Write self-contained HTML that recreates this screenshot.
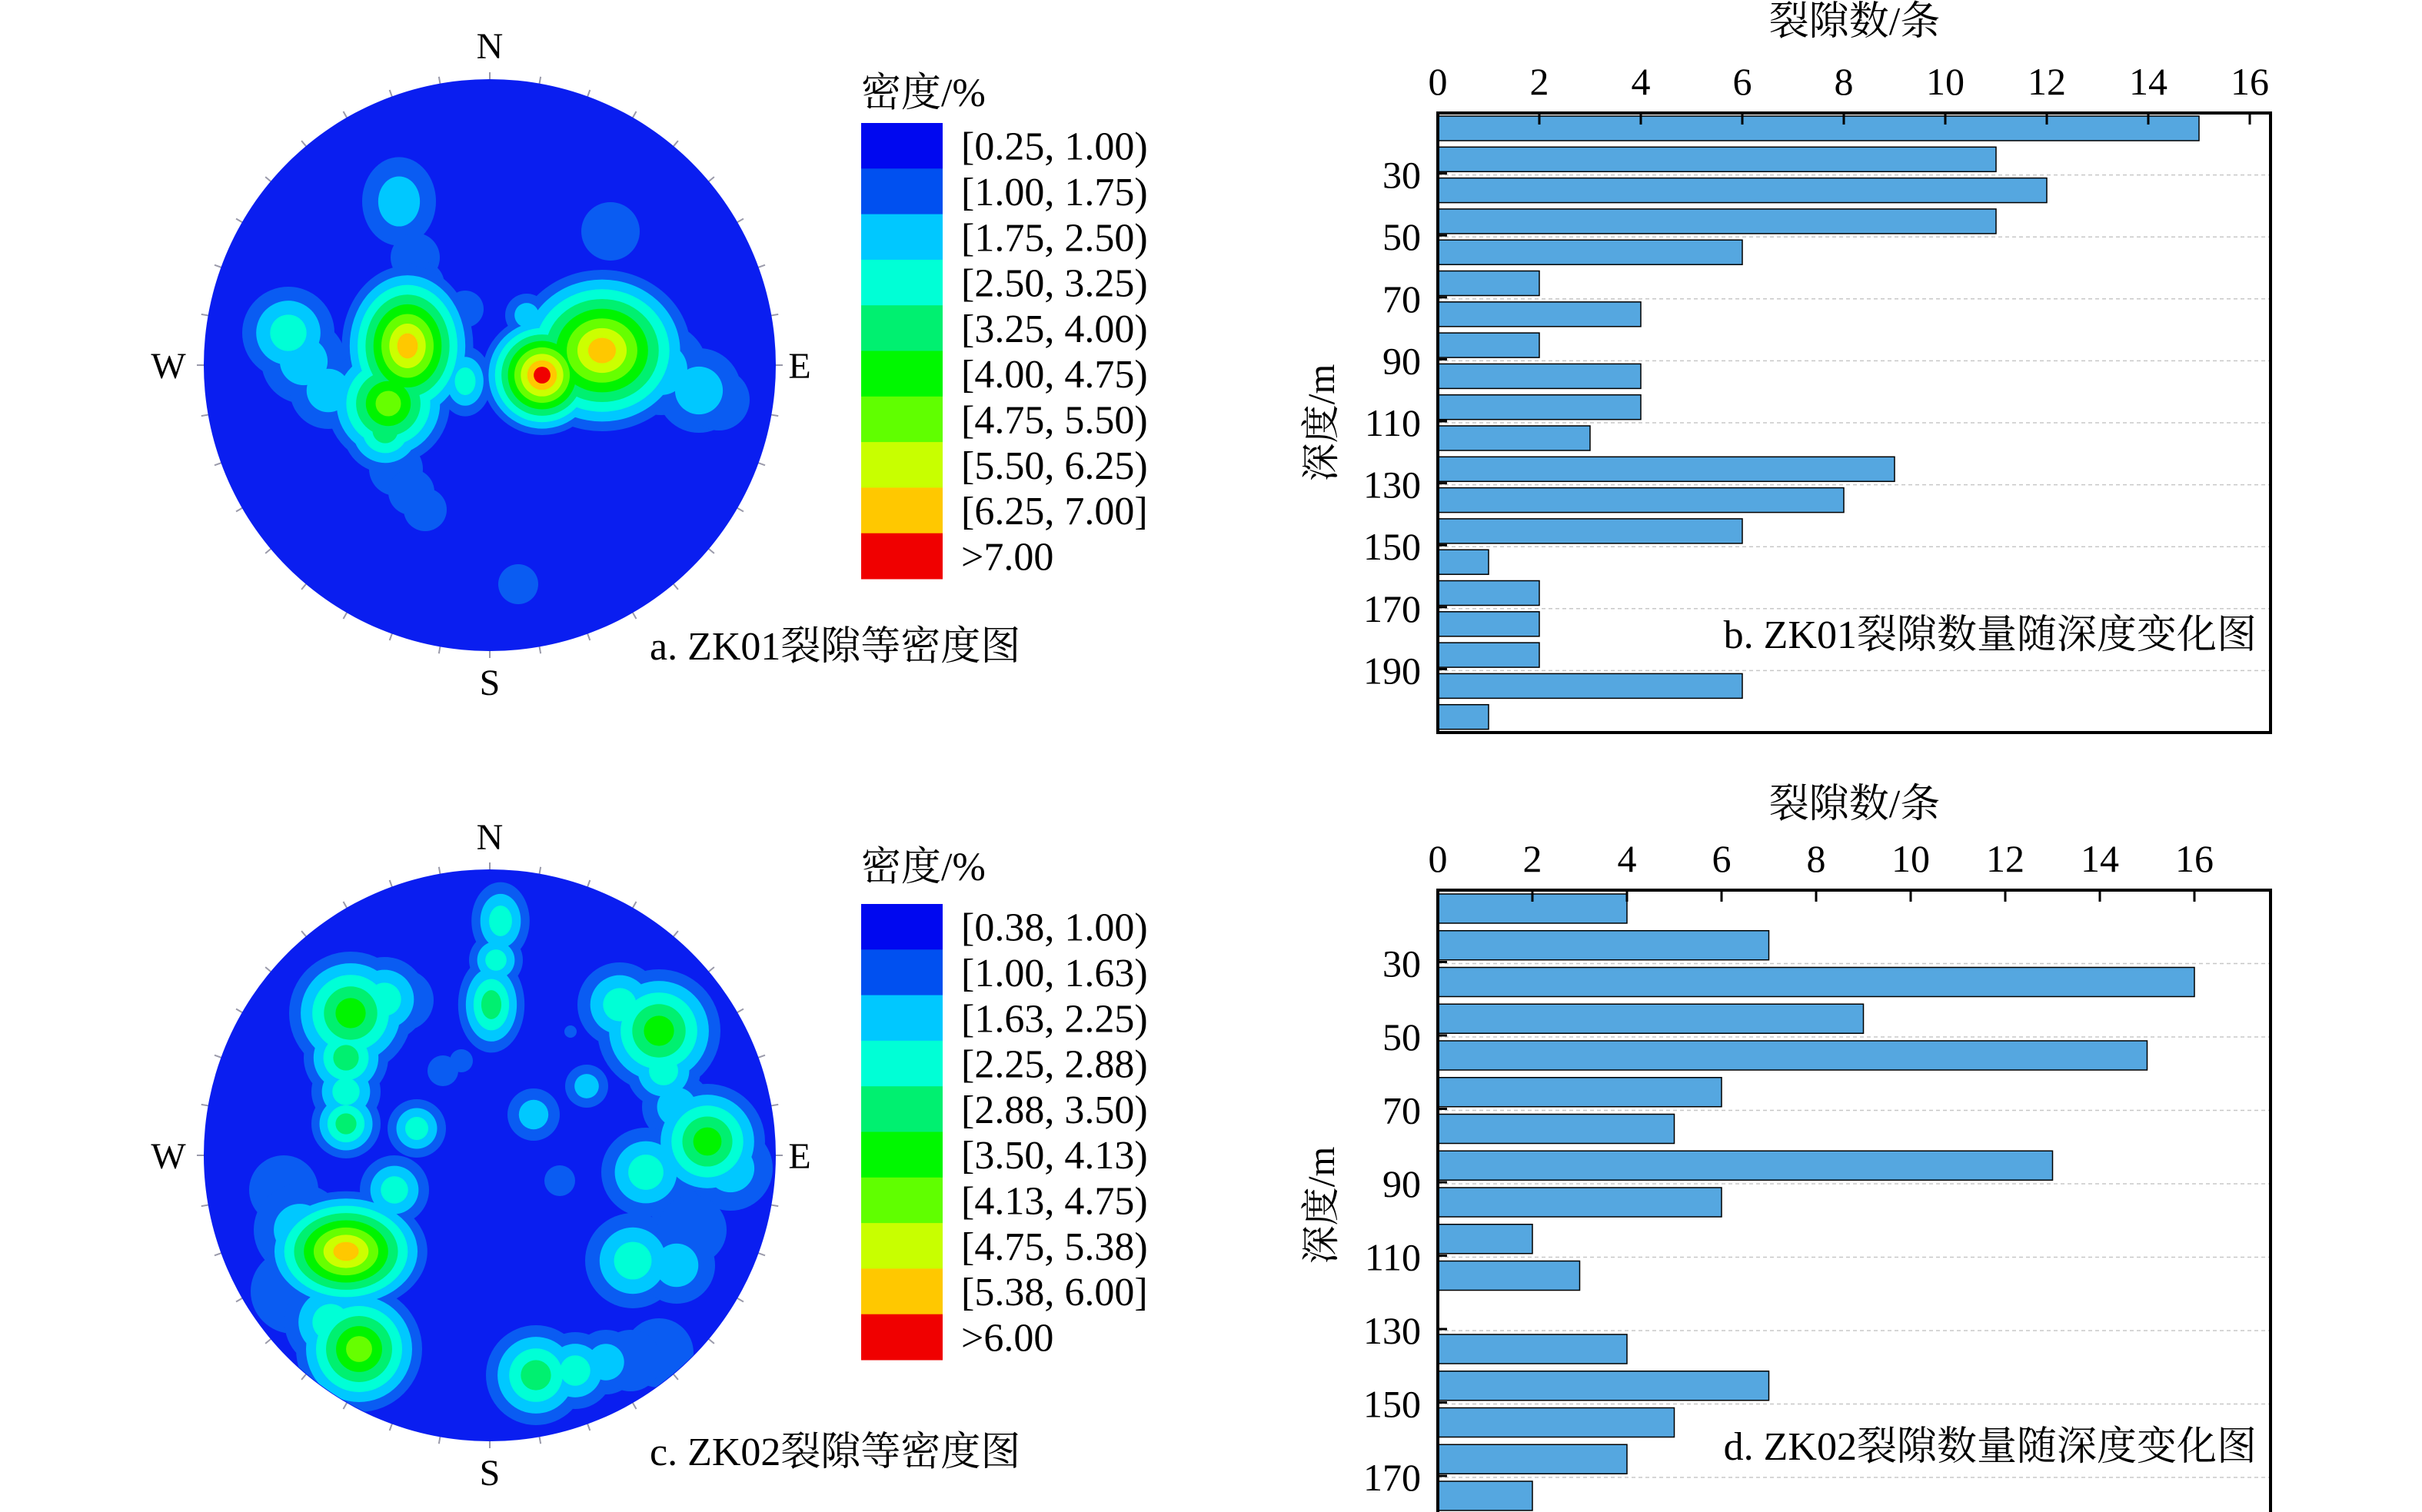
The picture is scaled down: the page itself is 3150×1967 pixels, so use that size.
<!DOCTYPE html>
<html><head><meta charset="utf-8">
<style>
html,body{margin:0;padding:0;background:#fff;}
svg{display:block;}
text{font-family:"Liberation Serif","Noto Serif CJK SC",serif;fill:#000;}
</style></head>
<body>
<svg id="s" xmlns="http://www.w3.org/2000/svg" width="3150" height="1967" viewBox="0 0 3150 1967">
<defs>
<clipPath id="ca"><circle cx="637" cy="475" r="371"/></clipPath>
<clipPath id="cc"><circle cx="637" cy="1503" r="371"/></clipPath>
</defs>
<rect width="3150" height="1967" fill="#fff"/>
<g id="stA"></g>
<g id="stC"></g>
<g id="leg"></g>
<g id="bars"></g>
<g font-size="48" text-anchor="middle">
<text x="637" y="76">N</text><text x="637" y="904">S</text>
<text x="219" y="492">W</text><text x="1040" y="492">E</text>
<text x="637" y="1105">N</text><text x="637" y="1932">S</text>
<text x="219" y="1520">W</text><text x="1040" y="1520">E</text>
</g>
<text x="845" y="858" font-size="52">a. ZK01裂隙等密度图</text>
<text x="845" y="1906" font-size="52">c. ZK02裂隙等密度图</text>
<text x="1120" y="138" font-size="52">密度/%</text>
<text x="1120" y="1145" font-size="52">密度/%</text>
<text x="2412" y="45" font-size="52" text-anchor="middle">裂隙数/条</text>
<text x="2412" y="1063" font-size="52" text-anchor="middle">裂隙数/条</text>
<text x="2935" y="843" font-size="52" text-anchor="end">b. ZK01裂隙数量随深度变化图</text>
<text x="2935" y="1899" font-size="52" text-anchor="end">d. ZK02裂隙数量随深度变化图</text>
<text transform="translate(1735,550) rotate(-90)" font-size="50" text-anchor="middle">深度/m</text>
<text transform="translate(1735,1568) rotate(-90)" font-size="50" text-anchor="middle">深度/m</text>
</svg>
<script>
var NS="http://www.w3.org/2000/svg";
function el(p,t,a,txt){var e=document.createElementNS(NS,t);for(var k in a)e.setAttribute(k,a[k]);if(txt!==undefined)e.textContent=txt;p.appendChild(e);return e;}
var C=["#0a1ef0","#0a5cf2","#00c8ff","#00ffd6","#00f070","#00f400","#66ff00","#ccff00","#ffc800","#f00000"];
function stereo(gid,cx,cy,clip,peaks){
  var g=document.getElementById(gid);
  for(var a=0;a<360;a+=10){var r=a*Math.PI/180,s=Math.sin(r),c=Math.cos(r);
    el(g,"line",{x1:cx+s*371,y1:cy-c*371,x2:cx+s*381,y2:cy-c*381,stroke:"#9a9aaa","stroke-width":2});}
  el(g,"circle",{cx:cx,cy:cy,r:372,fill:C[0]});
  var gg=el(g,"g",{"clip-path":"url(#"+clip+")"});
  for(var k=1;k<=9;k++){
    peaks.forEach(function(p){
      if(p[2]>=k){var rr=p[3]*(p[2]-k+1.3)/(p[2]+0.3);var sx=p[4]||1,sy=p[5]||1;
        el(gg,"ellipse",{cx:p[0],cy:p[1],rx:rr*sx,ry:rr*sy,fill:C[k]});}
    });
  }
}
stereo("stA",637,475,"ca",[
 [519,262,2,48,1,1.2],[540,335,1,32],[548,370,1,30],[560,395,1,26],
 [375,433,3,60,1,1],[395,470,2,55],[427,508,2,50],[460,512,2,45],
 [530,450,8,95,0.9,1.1],[505,525,6,80],[501,560,4,55],
 [515,610,1,35],[535,640,1,30],[553,663,1,28],
 [605,402,1,24],[605,496,3,38,0.9,1.2],[685,410,2,28],
 [705,488,9,78],[783,456,8,105,1.1,1],[740,470,3,60],
 [860,480,2,60],[909,508,2,55],[935,520,1,40],
 [794,301,1,38],[674,760,1,26]
]);
stereo("stC",637,1503,"cc",[
 [651,1198,3,42,0.9,1.2],[645,1249,3,35],[639,1307,4,48,0.9,1.3],
 [456,1318,5,80],[500,1300,3,55],[524,1301,1,40],[450,1376,4,55],[450,1420,3,45],[450,1462,4,45],[542,1468,3,38],[576,1393,1,20],[600,1380,1,15],
 [450,1628,8,92,1.15,0.85],[513,1548,3,45],[369,1548,1,45],[390,1600,2,60],[381,1680,1,55],[467,1755,6,82],[430,1720,3,60],
 [857,1341,5,80],[806,1307,3,55],[863,1393,3,48],[880,1440,2,45],[920,1485,5,75],[840,1525,3,58],[886,1559,1,45],[950,1520,2,55],
 [823,1640,3,62],[880,1646,2,50],[900,1600,1,45],
 [697,1789,4,65],[748,1783,3,50],[788,1772,2,42],[857,1760,1,45],[820,1770,1,40],
 [763,1413,2,28],[694,1450,2,34],[728,1536,1,20],[742,1342,1,8]
]);
var L=document.getElementById("leg");
var la=["[0.25, 1.00)","[1.00, 1.75)","[1.75, 2.50)","[2.50, 3.25)","[3.25, 4.00)","[4.00, 4.75)","[4.75, 5.50)","[5.50, 6.25)","[6.25, 7.00]",">7.00"];
var lc=["[0.38, 1.00)","[1.00, 1.63)","[1.63, 2.25)","[2.25, 2.88)","[2.88, 3.50)","[3.50, 4.13)","[4.13, 4.75)","[4.75, 5.38)","[5.38, 6.00]",">6.00"];
var LC=["#0008f0","#0050f0","#00c8ff","#00ffd6","#00f070","#00f800","#60ff00","#c8ff00","#ffc800","#f00000"];
function legend(y0,h,labs){for(var i=0;i<10;i++){el(L,"rect",{x:1120,y:y0+i*h,width:106,height:h+0.5,fill:LC[i]});
  el(L,"text",{x:1250,y:y0+i*h+h*0.5+18,"font-size":52},labs[i]);}}
legend(160,59.3,la);legend(1176,59.3,lc);
var B=document.getElementById("bars");
function chart(top,bottom,x0,unit,pitch,bh,off,vals,labs){
  var right=2953;
  for(var k=1;k*2<vals.length;k++){var y=top+k*2*pitch;
    el(B,"line",{x1:x0,y1:y,x2:right,y2:y,stroke:"#c8c8c8","stroke-width":1.5,"stroke-dasharray":"5,4"});}
  vals.forEach(function(v,i){if(v>0)el(B,"rect",{x:x0,y:top+off+i*pitch,width:v*unit,height:bh,fill:"#55a7e0",stroke:"#000","stroke-width":1.5});});
  for(var k=1;k*2<vals.length;k++){var y=top+k*2*pitch;
    el(B,"line",{x1:x0,y1:y-2,x2:x0+12,y2:y-2,stroke:"#000","stroke-width":3});
    el(B,"text",{x:1848,y:y+17,"font-size":50,"text-anchor":"end"},labs[k-1]);}
  for(var t=0;t<=16;t+=2){var x=x0+t*unit;
    if(t>0)el(B,"line",{x1:x,y1:top,x2:x,y2:top+15,stroke:"#000","stroke-width":3});
    el(B,"text",{x:x,y:top-24,"font-size":50,"text-anchor":"middle"},String(t));}
  el(B,"rect",{x:x0,y:top,width:right-x0,height:bottom-top,fill:"none",stroke:"#000","stroke-width":4});
}
chart(147,953,1870,66,40.3,32,4,[15,11,12,11,6,2,4,2,4,4,3,9,8,6,1,2,2,2,6,1],["30","50","70","90","110","130","150","170","190"]);
chart(1158,1970,1870,61.5,47.75,38,5,[4,7,16,9,15,6,5,13,6,2,3,0,4,7,5,4,2],["30","50","70","90","110","130","150","170"]);
</script>
</body></html>
